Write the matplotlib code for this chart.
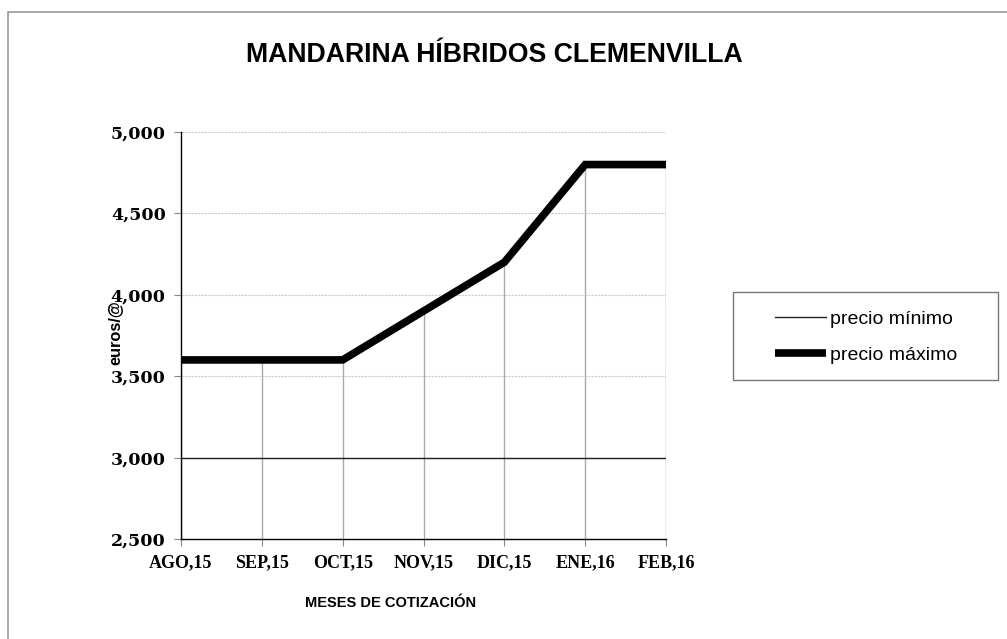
import matplotlib
matplotlib.use("Agg")
import matplotlib.pyplot as plt
from matplotlib.patches import Rectangle
from matplotlib.ticker import FuncFormatter

months = ["AGO,15", "SEP,15", "OCT,15", "NOV,15", "DIC,15", "ENE,16", "FEB,16"]
precio_minimo = [3.0, 3.0, 3.0, 3.0, 3.0, 3.0, 3.0]
precio_maximo = [3.6, 3.6, 3.6, 3.9, 4.2, 4.8, 4.8]
yticks = [2.5, 3.0, 3.5, 4.0, 4.5, 5.0]

W, H = 1007, 639
fig = plt.figure(figsize=(W / 100, H / 100), dpi=100)
fig.patches.append(Rectangle((8 / W, -0.1), 1.2, 1 - 12 / H + 0.1, transform=fig.transFigure,
                             fill=False, edgecolor="#999999", linewidth=1.2, zorder=0))

ax = fig.add_axes([181 / W, 1 - 539 / H, (666 - 181) / W, (539 - 132) / H])
x = list(range(len(months)))

# horizontal gridlines
for v in yticks[1:]:
    ax.axhline(v, color="#c8c8c8", linewidth=0.8, linestyle=(0, (2, 1)), zorder=1)

# drop lines
ax.vlines(x, 2.5, precio_maximo, colors="#aaaaaa", linewidth=1.0, zorder=2)

ax.plot(x, precio_minimo, color="#222222", linewidth=1.0, label="precio mínimo", zorder=3)
ax.plot(x, precio_maximo, color="black", linewidth=5.5, label="precio máximo", zorder=4,
        solid_capstyle="butt", solid_joinstyle="miter")

ax.set_xlim(0, len(months) - 1)
ax.set_ylim(2.5, 5.0)
ax.set_yticks(yticks)
ax.yaxis.set_major_formatter(FuncFormatter(lambda v, p: f"{v:.3f}".replace(".", ",")))
ax.set_xticks(x)
ax.set_xticklabels(months)

for s in ["top", "right"]:
    ax.spines[s].set_visible(False)
ax.spines["left"].set_color("black")
ax.spines["bottom"].set_color("black")
ax.spines["left"].set_linewidth(1.0)
ax.spines["bottom"].set_linewidth(1.0)
ax.tick_params(axis="y", direction="out", length=5, color="#888888", pad=6)
ax.tick_params(axis="x", direction="out", length=5, color="#888888", pad=6)

for lab in ax.get_yticklabels():
    lab.set_fontfamily("DejaVu Serif")
    lab.set_fontweight("bold")
    lab.set_fontsize(12.5)
for lab in ax.get_xticklabels():
    lab.set_fontfamily("Liberation Serif")
    lab.set_fontweight("bold")
    lab.set_fontsize(13)

fig.text(494 / W, 1 - 55 / H, "MANDARINA HÍBRIDOS CLEMENVILLA", ha="center", va="center",
         fontsize=19.2, fontweight="bold", family="Liberation Sans")
fig.text(116 / W, 1 - 333 / H, "euros/@", ha="center", va="center", rotation=90,
         fontsize=11.8, fontweight="bold", family="Liberation Sans")
fig.text(391 / W, 1 - 603 / H, "MESES DE COTIZACIÓN", ha="center", va="center",
         fontsize=10.5, fontweight="bold", family="Liberation Sans")

fig.patches.append(Rectangle((733 / W, 1 - 380 / H), (998 - 733) / W, (380 - 292) / H,
                             transform=fig.transFigure, fill=False, edgecolor="#777777",
                             linewidth=1.0, zorder=5))
leg = fig.legend(loc="center", bbox_to_anchor=(866 / W, 1 - 337 / H),
                 frameon=False,
                 prop={"family": "Liberation Sans", "size": 14},
                 handlelength=2.6, handletextpad=0.2, borderpad=0.5,
                 labelspacing=0.95, borderaxespad=0)

fig.savefig("out.png", dpi=100)
